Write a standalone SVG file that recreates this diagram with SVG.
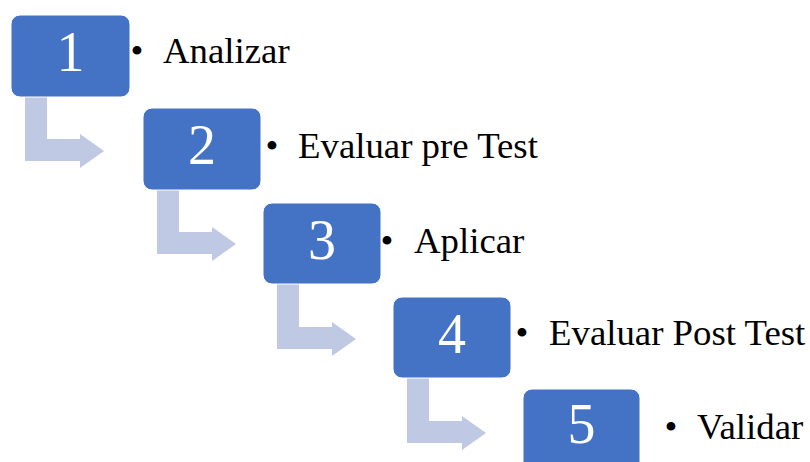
<svg xmlns="http://www.w3.org/2000/svg" xmlns:xlink="http://www.w3.org/1999/xlink" width="810" height="462" viewBox="0 0 810 462">
  <style>
    .box { fill: #4472C4; stroke: #ffffff; stroke-width: 1; }
    .num { font-family: "Liberation Serif", "Times New Roman", serif; font-size: 56px; fill: #ffffff; text-anchor: middle; }
    .lbl { font-family: "Liberation Serif", "Times New Roman", serif; font-size: 36.8px; fill: #000000; }
    .bul { font-family: "Liberation Serif", "Times New Roman", serif; font-size: 36.8px; fill: #000000; text-anchor: middle; }
    .arr { fill: #C0C9E4; }
  </style>
  <defs>
    <path id="bend" d="M14,80 L36,80 L36,124 L69,124 L69,119 L93,136 L69,153 L69,146 L14,146 Z"/>
  </defs>
  <rect width="810" height="462" fill="#ffffff"/>
  <g id="connectors" class="arr">
    <use xlink:href="#bend" href="#bend" x="11" y="15"/>
    <use xlink:href="#bend" href="#bend" x="143" y="108"/>
    <use xlink:href="#bend" href="#bend" x="263" y="203"/>
    <use xlink:href="#bend" href="#bend" x="393" y="297"/>
  </g>
  <g id="node1">
    <rect class="box" x="11" y="15" width="119" height="82" rx="9"/>
    <text class="num" x="70.5" y="71">1</text>
    <text class="bul" x="137" y="63">•</text>
    <text class="lbl" x="163" y="63">Analizar</text>
  </g>
  <g id="node2">
    <rect class="box" x="143" y="108" width="118" height="82" rx="9"/>
    <text class="num" x="202" y="164">2</text>
    <text class="bul" x="272" y="158">•</text>
    <text class="lbl" x="298" y="158">Evaluar pre Test</text>
  </g>
  <g id="node3">
    <rect class="box" x="263" y="203" width="118" height="81" rx="9"/>
    <text class="num" x="322" y="259">3</text>
    <text class="bul" x="387" y="253">•</text>
    <text class="lbl" x="414" y="253">Aplicar</text>
  </g>
  <g id="node4">
    <rect class="box" x="393" y="297" width="118" height="81" rx="9"/>
    <text class="num" x="452" y="353">4</text>
    <text class="bul" x="522" y="345">•</text>
    <text class="lbl" x="549" y="345">Evaluar Post Test</text>
  </g>
  <g id="node5">
    <rect class="box" x="523" y="389" width="117" height="82" rx="9"/>
    <text class="num" x="581.5" y="443">5</text>
    <text class="bul" x="671" y="439">•</text>
    <text class="lbl" x="697" y="439">Validar</text>
  </g>
</svg>
